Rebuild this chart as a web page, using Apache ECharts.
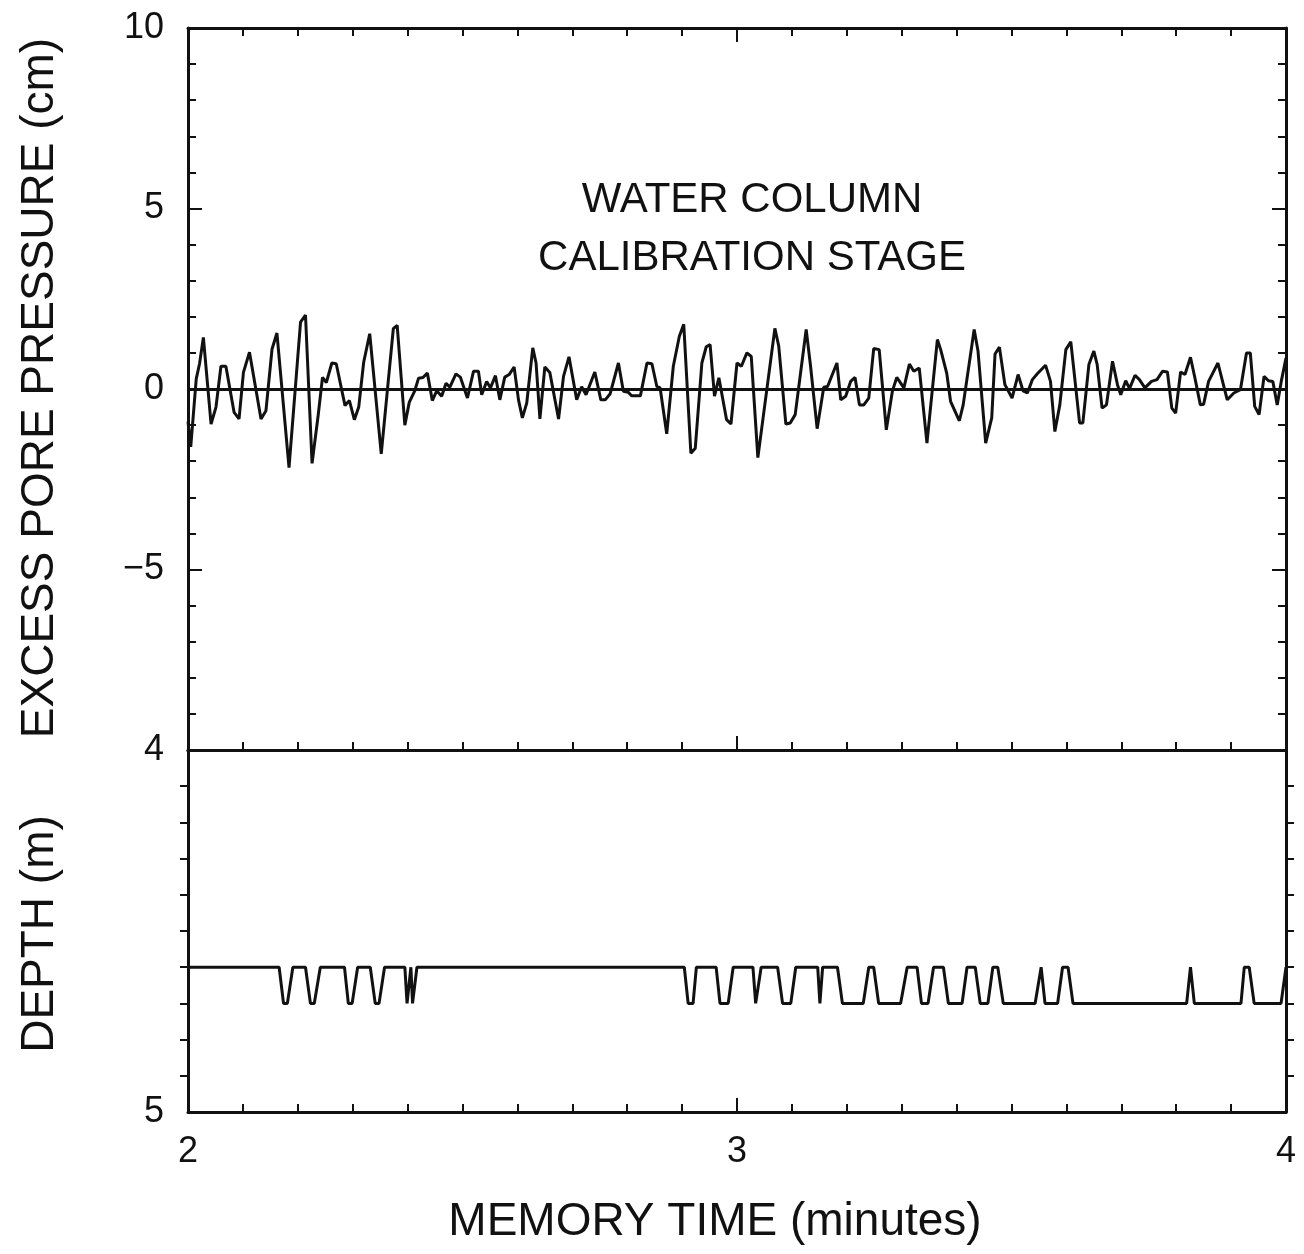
<!DOCTYPE html>
<html>
<head>
<meta charset="utf-8">
<title>Water column calibration stage</title>
<script src="https://cdn.jsdelivr.net/npm/echarts@6/dist/echarts.min.js"></script>
<style>
  html, body { margin: 0; padding: 0; background: #fff; }
  #chart { width: 1304px; height: 1254px; }
</style>
</head>
<body>
<div id="chart"></div>
<script>
// Excess pore pressure record (cm) against memory time (minutes)
const pressureTime = [
  2.000, 2.005, 2.015, 2.021, 2.028, 2.042, 2.051, 2.060, 2.069, 2.084,
  2.093, 2.101, 2.112, 2.133, 2.142, 2.153, 2.162, 2.184, 2.205, 2.214,
  2.226, 2.237, 2.245, 2.252, 2.262, 2.270, 2.286, 2.294, 2.303, 2.311,
  2.320, 2.331, 2.352, 2.374, 2.381, 2.395, 2.403, 2.413, 2.420, 2.428,
  2.436, 2.445, 2.453, 2.462, 2.470, 2.477, 2.488, 2.496, 2.509, 2.520,
  2.529, 2.535, 2.544, 2.551, 2.560, 2.568, 2.577, 2.585, 2.594, 2.602,
  2.609, 2.617, 2.628, 2.634, 2.641, 2.650, 2.659, 2.675, 2.684, 2.694,
  2.708, 2.717, 2.725, 2.741, 2.752, 2.760, 2.769, 2.784, 2.793, 2.802,
  2.808, 2.824, 2.836, 2.845, 2.854, 2.860, 2.872, 2.884, 2.895, 2.903,
  2.916, 2.924, 2.936, 2.944, 2.951, 2.959, 2.967, 2.981, 2.989, 3.000,
  3.008, 3.018, 3.026, 3.038, 3.069, 3.076, 3.089, 3.097, 3.106, 3.126,
  3.134, 3.146, 3.158, 3.165, 3.182, 3.189, 3.198, 3.207, 3.215, 3.223,
  3.231, 3.240, 3.249, 3.259, 3.272, 3.283, 3.291, 3.304, 3.314, 3.322,
  3.332, 3.346, 3.365, 3.371, 3.382, 3.389, 3.405, 3.412, 3.432, 3.439,
  3.453, 3.464, 3.470, 3.478, 3.488, 3.501, 3.512, 3.521, 3.529, 3.538,
  3.547, 3.562, 3.571, 3.579, 3.588, 3.599, 3.608, 3.624, 3.630, 3.641,
  3.650, 3.656, 3.665, 3.673, 3.684, 3.693, 3.699, 3.708, 3.715, 3.725,
  3.733, 3.743, 3.755, 3.765, 3.775, 3.784, 3.792, 3.799, 3.808, 3.816,
  3.826, 3.834, 3.844, 3.850, 3.859, 3.876, 3.893, 3.905, 3.917, 3.928,
  3.935, 3.943, 3.951, 3.960, 3.968, 3.976, 3.984, 3.992, 4.000
];
const pressure = [
  -0.90, -1.60, 0.28, 0.70, 1.43, -0.97, -0.50, 0.63, 0.63, -0.65,
  -0.83, 0.46, 1.02, -0.83, -0.60, 1.10, 1.55, -2.18, 1.85, 2.05,
  -2.06, -0.74, 0.32, 0.18, 0.72, 0.70, -0.46, -0.32, -0.85, -0.50,
  0.74, 1.53, -1.80, 1.67, 1.76, -1.00, -0.37, -0.05, 0.30, 0.32,
  0.44, -0.32, -0.05, -0.20, 0.16, 0.05, 0.42, 0.33, -0.25, 0.49,
  0.49, -0.16, 0.21, 0.03, 0.37, -0.30, 0.33, 0.40, 0.61, -0.30,
  -0.80, -0.39, 1.14, 0.72, -0.83, 0.61, 0.46, -0.83, 0.35, 0.89,
  -0.30, 0.06, -0.16, 0.47, -0.30, -0.30, -0.13, 0.72, -0.06, -0.09,
  -0.19, -0.19, 0.72, 0.70, 0.07, 0.03, -1.24, 0.63, 1.46, 1.79,
  -1.78, -1.64, 0.72, 1.17, 1.23, -0.20, 0.31, -0.85, -0.97, 0.72,
  0.63, 1.00, 0.90, -1.90, 1.68, 1.19, -0.97, -0.94, -0.71, 1.65,
  0.63, -1.10, 0.05, 0.07, 0.72, -0.30, -0.20, 0.21, 0.32, -0.44,
  -0.44, -0.25, 1.12, 1.09, -1.13, -0.06, 0.32, 0.03, 0.69, 0.49,
  0.58, -1.50, 1.37, 1.09, 0.44, -0.34, -0.88, -0.44, 1.65, 1.05,
  -1.50, -0.80, 0.97, 1.16, 0.12, -0.25, 0.40, -0.05, -0.11, 0.26,
  0.42, 0.66, 0.21, -1.18, -0.44, 1.09, 1.31, -0.94, -0.94, 0.68,
  1.05, 0.68, -0.53, -0.44, 0.77, 0.12, -0.16, 0.23, 0.01, 0.38,
  0.26, 0.03, 0.21, 0.26, 0.49, 0.47, -0.53, -0.67, 0.47, 0.40,
  0.88, 0.31, -0.44, -0.42, 0.21, 0.72, -0.30, -0.11, -0.02, 1.00,
  1.00, -0.48, -0.71, 0.35, 0.23, 0.21, -0.44, 0.26, 0.86
];

// Probe depth (m) against memory time (minutes)
const depthTime = [
  2.000, 2.166, 2.174, 2.181, 2.191, 2.214, 2.223, 2.230, 2.241, 2.285,
  2.292, 2.299, 2.309, 2.332, 2.341, 2.348, 2.358, 2.395, 2.399, 2.402,
  2.406, 2.409, 2.412, 2.417, 2.904, 2.911, 2.920, 2.926, 2.962, 2.969,
  2.984, 2.993, 3.029, 3.034, 3.044, 3.074, 3.083, 3.098, 3.107, 3.147,
  3.151, 3.156, 3.183, 3.192, 3.230, 3.240, 3.249, 3.258, 3.298, 3.310,
  3.328, 3.336, 3.348, 3.358, 3.376, 3.385, 3.410, 3.419, 3.434, 3.443,
  3.457, 3.466, 3.475, 3.485, 3.543, 3.554, 3.561, 3.584, 3.593, 3.603,
  3.612, 3.819, 3.826, 3.833, 3.918, 3.924, 3.933, 3.942, 3.991, 4.000
];
const depth = [
  4.6, 4.6, 4.7, 4.7, 4.6, 4.6, 4.7, 4.7, 4.6, 4.6,
  4.7, 4.7, 4.6, 4.6, 4.7, 4.7, 4.6, 4.6, 4.7, 4.7,
  4.6, 4.7, 4.7, 4.6, 4.6, 4.7, 4.7, 4.6, 4.6, 4.7,
  4.7, 4.6, 4.6, 4.7, 4.6, 4.6, 4.7, 4.7, 4.6, 4.6,
  4.7, 4.6, 4.6, 4.7, 4.7, 4.6, 4.6, 4.7, 4.7, 4.6,
  4.6, 4.7, 4.7, 4.6, 4.6, 4.7, 4.7, 4.6, 4.6, 4.7,
  4.7, 4.6, 4.6, 4.7, 4.7, 4.6, 4.7, 4.7, 4.6, 4.6,
  4.7, 4.7, 4.6, 4.7, 4.7, 4.6, 4.6, 4.7, 4.7, 4.6
];

const timeLabels = [2, 3, 4];
const pressureLabels = [10, 5, 0, -5];
const depthLabels = [4, 5];
const annotation = ['WATER COLUMN', 'CALIBRATION STAGE'];

const FONT = '"Liberation Sans", Arial, sans-serif';
const INK = '#111';
const axisLine = { color: INK, width: 3 };
const tickStyle = { color: INK, width: 2 };

const pressureData = pressureTime.map((t, i) => [t, pressure[i]]);
const depthData = depthTime.map((t, i) => [t, depth[i]]);

// Tick labels use a true minus sign for negative values
const fmtNumber = v => (v < 0 ? '\u2212' + Math.abs(v) : String(v));

function timeAxis(gridIndex, position, opts) {
  return Object.assign({
    type: 'value', gridIndex, position, min: 2, max: 4, interval: 1,
    axisLine: { show: true, onZero: false, lineStyle: axisLine },
    axisTick: { show: true, inside: true, length: 14, lineStyle: tickStyle },
    minorTick: { show: true, splitNumber: 10, length: 8, lineStyle: tickStyle },
    axisLabel: { show: false },
    splitLine: { show: false }
  }, opts || {});
}

function valueAxis(gridIndex, position, opts) {
  return Object.assign({
    type: 'value', gridIndex, position,
    axisLine: { show: true, onZero: false, lineStyle: axisLine },
    axisTick: { show: true, inside: true, length: 14, lineStyle: tickStyle },
    minorTick: { show: true, length: 8, lineStyle: tickStyle },
    axisLabel: { show: false },
    splitLine: { show: false }
  }, opts || {});
}

const chart = echarts.init(document.getElementById('chart'), null, { renderer: 'canvas' });

chart.setOption({
  backgroundColor: '#fff',
  animation: false,
  grid: [
    { left: 188, top: 28, width: 1098, height: 722 },
    { left: 188, top: 750, width: 1098, height: 362 }
  ],
  xAxis: [
    timeAxis(0, 'bottom'),
    timeAxis(0, 'top'),
    timeAxis(1, 'bottom', {
      axisLabel: {
        show: true, margin: 22, color: INK, fontFamily: FONT, fontSize: 36,
        formatter: v => timeLabels.includes(v) ? String(v) : ''
      }
    }),
    timeAxis(1, 'top', { axisTick: { show: false }, minorTick: { show: false } })
  ],
  yAxis: [
    valueAxis(0, 'left', {
      min: -10, max: 10, interval: 5,
      minorTick: { show: true, splitNumber: 5, length: 8, lineStyle: tickStyle },
      axisLabel: {
        show: true, margin: 24, color: INK, fontFamily: FONT, fontSize: 36,
        formatter: v => pressureLabels.includes(v) ? fmtNumber(v) : ''
      }
    }),
    valueAxis(0, 'right', {
      min: -10, max: 10, interval: 5,
      minorTick: { show: true, splitNumber: 5, length: 8, lineStyle: tickStyle }
    }),
    valueAxis(1, 'left', {
      min: 4, max: 5, interval: 1, inverse: true,
      minorTick: { show: true, splitNumber: 10, length: 8, lineStyle: tickStyle },
      axisTick: { show: false },
      axisLabel: {
        show: true, margin: 24, color: INK, fontFamily: FONT, fontSize: 36,
        formatter: v => depthLabels.includes(v) ? String(v) : ''
      }
    }),
    valueAxis(1, 'right', {
      min: 4, max: 5, interval: 1, inverse: true, axisTick: { show: false },
      minorTick: { show: true, splitNumber: 10, length: 8, lineStyle: tickStyle }
    })
  ],
  series: [
    {
      type: 'line', xAxisIndex: 0, yAxisIndex: 0, data: pressureData,
      showSymbol: false, symbol: 'none', lineStyle: { color: INK, width: 3 }, z: 3,
      markLine: {
        silent: true, symbol: 'none', label: { show: false },
        lineStyle: { color: INK, width: 3, type: 'solid' },
        data: [{ yAxis: 0 }]
      }
    },
    {
      type: 'line', xAxisIndex: 2, yAxisIndex: 2, data: depthData,
      showSymbol: false, symbol: 'none', lineStyle: { color: INK, width: 3 }
    }
  ],
  graphic: [
    {
      type: 'text', x: 752, y: 200, style: {
        text: annotation[0], fill: INK, font: '42px ' + FONT, align: 'center', verticalAlign: 'middle'
      }
    },
    {
      type: 'text', x: 752, y: 258, style: {
        text: annotation[1], fill: INK, font: '42px ' + FONT, align: 'center', verticalAlign: 'middle'
      }
    },
    {
      type: 'text', x: 40, y: 388, rotation: Math.PI / 2, style: {
        text: 'EXCESS PORE PRESSURE (cm)', fill: INK, font: '46px ' + FONT, align: 'center', verticalAlign: 'middle'
      }
    },
    {
      type: 'text', x: 40, y: 934, rotation: Math.PI / 2, style: {
        text: 'DEPTH (m)', fill: INK, font: '46px ' + FONT, align: 'center', verticalAlign: 'middle'
      }
    },
    {
      type: 'text', x: 715, y: 1222, style: {
        text: 'MEMORY TIME (minutes)', fill: INK, font: '46px ' + FONT, align: 'center', verticalAlign: 'middle'
      }
    }
  ]
});
</script>
</body>
</html>
